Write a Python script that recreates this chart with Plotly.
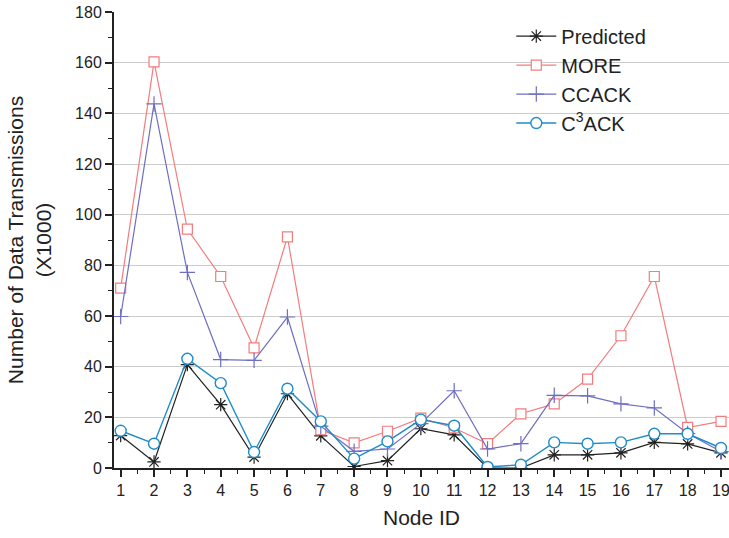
import plotly.graph_objects as go

node_ids = list(range(1, 20))
predicted = [12.8, 2.4, 40.8, 25.0, 4.3, 29.3, 12.7, 0.6, 2.9, 15.5, 13.1, 0.0, 0.0, 5.2, 5.2, 6.0, 10.1, 9.5, 6.0]
more = [71.0, 160.3, 94.3, 75.6, 47.4, 91.2, 15.1, 9.9, 14.5, 19.7, 15.8, 9.6, 21.4, 25.3, 35.1, 52.2, 75.6, 16.0, 18.4]
ccack = [59.8, 143.7, 77.2, 42.8, 42.5, 59.6, 16.5, 6.6, 7.5, 17.5, 30.5, 7.5, 9.6, 28.7, 28.5, 25.3, 23.7, 13.6, 6.5]
c3ack = [14.7, 9.6, 43.1, 33.5, 6.3, 31.3, 18.4, 3.7, 10.5, 19.1, 16.7, 0.4, 1.3, 10.1, 9.6, 10.1, 13.5, 13.5, 7.9]

series_names = ["Predicted", "MORE", "CCACK", "C<sup>3</sup>ACK"]
series_colors = ["#222222", "#F47C7C", "#6E6EC2", "#1E8CC8"]

fig = go.Figure()
fig.add_trace(go.Scatter(x=node_ids, y=predicted, name=series_names[0], mode="lines+markers",
                         line=dict(color=series_colors[0], width=1.2),
                         marker=dict(symbol="asterisk-open", size=11, line=dict(color=series_colors[0], width=1.2))))
fig.add_trace(go.Scatter(x=node_ids, y=more, name=series_names[1], mode="lines+markers",
                         line=dict(color=series_colors[1], width=1.2),
                         marker=dict(symbol="square", size=10, color="white", line=dict(color=series_colors[1], width=1.2))))
fig.add_trace(go.Scatter(x=node_ids, y=ccack, name=series_names[2], mode="lines+markers",
                         line=dict(color=series_colors[2], width=1.2),
                         marker=dict(symbol="cross-thin-open", size=11, line=dict(color=series_colors[2], width=1.2))))
fig.add_trace(go.Scatter(x=node_ids, y=c3ack, name=series_names[3], mode="lines+markers",
                         line=dict(color=series_colors[3], width=1.4),
                         marker=dict(symbol="circle", size=11, color="white", line=dict(color=series_colors[3], width=1.4))))

font_family = "Liberation Sans, Arial, sans-serif"
fig.update_layout(
    width=729, height=538,
    margin=dict(l=114, r=0, t=12, b=70),
    paper_bgcolor="white", plot_bgcolor="white",
    font=dict(family=font_family, color="#222222", size=16),
    legend=dict(x=0.646, y=0.99, xanchor="left", yanchor="top", bgcolor="rgba(0,0,0,0)",
                font=dict(size=20, color="#222222"), tracegroupgap=0, itemwidth=40),
    xaxis=dict(
        title=dict(text="Node ID", font=dict(size=21), standoff=12),
        range=[0.8, 19.24], tickmode="array", tickvals=node_ids, ticktext=[str(v) for v in node_ids],
        ticklabeloverflow="allow",
        showgrid=False, zeroline=False, showline=True, linecolor="#222222", linewidth=2,
        ticks="outside", ticklen=7, tickwidth=1.5, tickcolor="#222222",
        minor=dict(dtick=0.5, tick0=0.5, ticks="outside", ticklen=4, tickwidth=1.2, tickcolor="#222222", showgrid=False),
        tickfont=dict(size=16),
    ),
    yaxis=dict(
        title=dict(text="Number of Data Transmissions<br>(X1000)", font=dict(size=21), standoff=18),
        range=[0, 180], dtick=20, tick0=0,
        showgrid=True, gridcolor="#CCCCCC", gridwidth=1, zeroline=False,
        showline=True, linecolor="#222222", linewidth=2,
        ticks="outside", ticklen=7, tickwidth=1.5, tickcolor="#222222",
        minor=dict(dtick=10, ticks="outside", ticklen=4, tickwidth=1.2, tickcolor="#222222", showgrid=False),
        tickfont=dict(size=16),
    ),
)

fig.write_html("out.html")
